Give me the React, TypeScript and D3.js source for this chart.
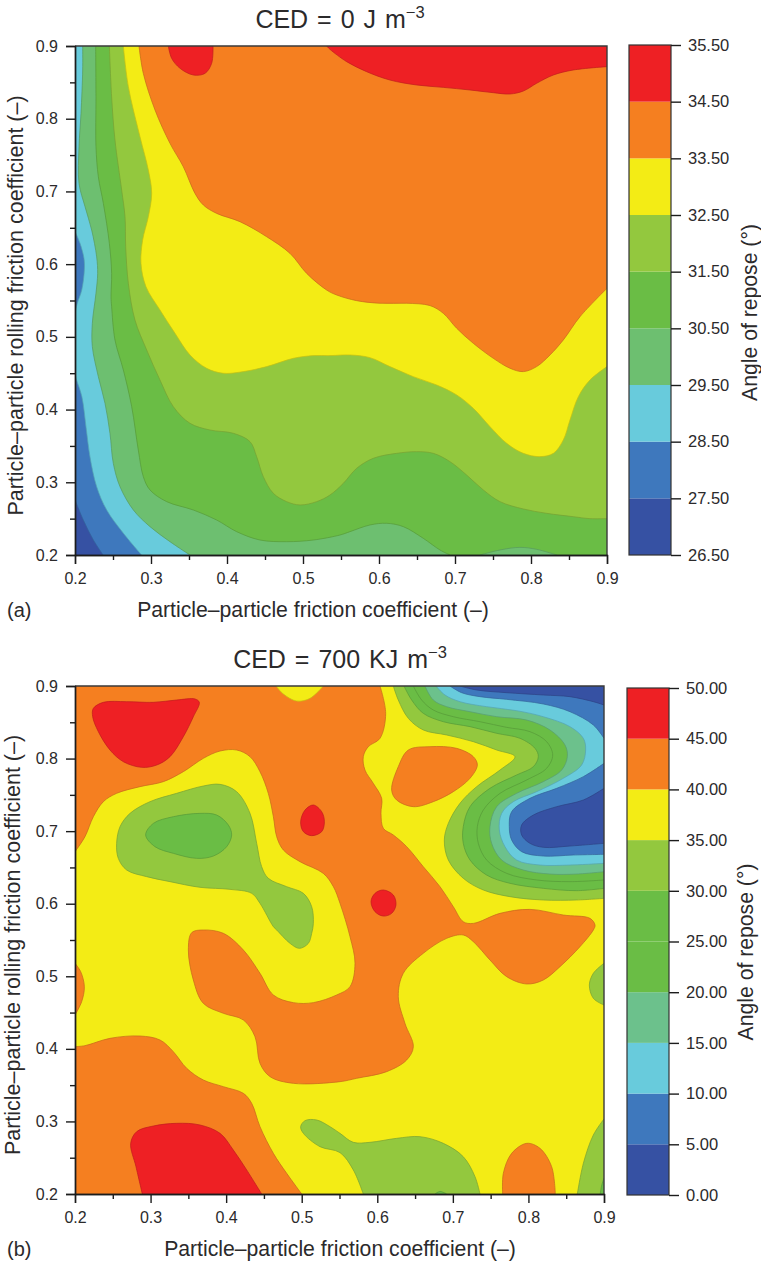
import * as d3 from 'd3';
import React, { useRef, useEffect } from 'react';

type Pt = number[];

const RED = '#ee2024', ORANGE = '#f57f20', YELLOW = '#f3ec15', LIME = '#93c83e', GREEN = '#6abd45';
const TEAL = '#6dbf70', TEAL_B = '#6cc18c', CYAN = '#68cbdc', BLUE = '#3e78bd', NAVY = '#3651a3';

const tl = [[0.2, 0.9]], tr = [[0.9, 0.9]], br = [[0.9, 0.2]], bl = [[0.2, 0.2]];
const axisTicks = [0.2, 0.3, 0.4, 0.5, 0.6, 0.7, 0.8, 0.9];
const axisMinor = [0.25, 0.35, 0.45, 0.55, 0.65, 0.75, 0.85];

// panel (a): contour lines, [friction, rolling friction]
const levelsA = [26.5, 27.5, 28.5, 29.5, 30.5, 31.5, 32.5, 33.5, 34.5, 35.5];
const colorsA = [NAVY, BLUE, CYAN, TEAL, GREEN, LIME, YELLOW, ORANGE, RED];
const a275 = [[0.2, 0.276], [0.211, 0.248], [0.224, 0.221], [0.237, 0.2]];
const a285top = [[0.2, 0.645], [0.2066, 0.6286], [0.2118, 0.608], [0.2123, 0.592], [0.2088, 0.564], [0.203, 0.546], [0.2, 0.532]];
const a285low = [[0.2, 0.45], [0.202, 0.441], [0.209, 0.418], [0.215, 0.372], [0.2197, 0.335], [0.2285, 0.294], [0.2417, 0.262], [0.2636, 0.23], [0.2877, 0.2]];
const a295 = [[0.2101, 0.9], [0.2101, 0.867], [0.2079, 0.8074], [0.2053, 0.7615], [0.2053, 0.711], [0.2132, 0.679], [0.2219, 0.647], [0.2285, 0.61], [0.2298, 0.587], [0.2276, 0.56], [0.2228, 0.5187], [0.2228, 0.4866], [0.2307, 0.4453], [0.2395, 0.4086], [0.246, 0.3674], [0.2504, 0.3261], [0.2592, 0.294], [0.2768, 0.2619], [0.2987, 0.239], [0.325, 0.2183], [0.3513, 0.2]];
const a305 = [[0.2272, 0.9], [0.2276, 0.8303], [0.2276, 0.7615], [0.2307, 0.7203], [0.2373, 0.6836], [0.2452, 0.6286], [0.2482, 0.5873], [0.2474, 0.555], [0.2482, 0.5416], [0.2526, 0.4957], [0.2636, 0.4545], [0.2746, 0.404], [0.2833, 0.3444], [0.2899, 0.3077], [0.2987, 0.2894], [0.3206, 0.2734], [0.3557, 0.2619], [0.3864, 0.2481], [0.4127, 0.2321], [0.4434, 0.2206], [0.4785, 0.2183], [0.5136, 0.2206], [0.5487, 0.2275], [0.5618, 0.2321], [0.5881, 0.2413], [0.6101, 0.2436], [0.632, 0.239], [0.6583, 0.2229], [0.6802, 0.2069], [0.6934, 0.2]];
const a305hole = [[0.7329, 0.2], [0.7592, 0.2069], [0.7855, 0.2105], [0.8074, 0.2078], [0.8338, 0.2]];
const a315 = [[0.2452, 0.9], [0.2482, 0.8303], [0.2526, 0.7707], [0.2614, 0.7019], [0.2658, 0.6652], [0.2667, 0.624], [0.2702, 0.5735], [0.2789, 0.5232], [0.2943, 0.482], [0.3118, 0.4407], [0.3294, 0.404], [0.3513, 0.3811], [0.3776, 0.3719], [0.4083, 0.3674], [0.4303, 0.3559], [0.439, 0.3353], [0.4478, 0.3077], [0.461, 0.2848], [0.4785, 0.2734], [0.4961, 0.2688], [0.518, 0.2734], [0.5355, 0.2825], [0.5531, 0.2986], [0.5706, 0.3192], [0.5925, 0.333], [0.6232, 0.3398], [0.6495, 0.3421], [0.6715, 0.3398], [0.6934, 0.3284], [0.7153, 0.31], [0.7373, 0.2894], [0.7592, 0.2734], [0.7899, 0.2633], [0.8206, 0.2573], [0.8557, 0.2527], [0.8776, 0.25], [0.9, 0.25]];
const a325 = [[0.2636, 0.9], [0.2702, 0.8441], [0.2855, 0.7753], [0.2965, 0.7294], [0.3009, 0.6973], [0.2965, 0.6652], [0.289, 0.6331], [0.2868, 0.6011], [0.2934, 0.569], [0.3118, 0.537], [0.3316, 0.5049], [0.3513, 0.4751], [0.3732, 0.4568], [0.3952, 0.4499], [0.4215, 0.4522], [0.4522, 0.4591], [0.4873, 0.4705], [0.5136, 0.4742], [0.5355, 0.4742], [0.5618, 0.4751], [0.5881, 0.4714], [0.6144, 0.4591], [0.6451, 0.4453], [0.6759, 0.4338], [0.7022, 0.4201], [0.7241, 0.4017], [0.7461, 0.3765], [0.768, 0.3536], [0.7899, 0.3398], [0.8118, 0.3353], [0.8294, 0.3398], [0.8425, 0.3582], [0.8513, 0.3857], [0.8623, 0.4178], [0.8776, 0.4407], [0.9, 0.4591]];
const a335 = [[0.2842, 0.9], [0.2899, 0.8624], [0.3053, 0.812], [0.325, 0.7661], [0.3425, 0.734], [0.3579, 0.6973], [0.3689, 0.6813], [0.3864, 0.6698], [0.4171, 0.6584], [0.4522, 0.6377], [0.4829, 0.6148], [0.5048, 0.5873], [0.5311, 0.5644], [0.5443, 0.5576], [0.5706, 0.5498], [0.6013, 0.5462], [0.6364, 0.5462], [0.6671, 0.543], [0.6846, 0.5324], [0.7022, 0.5118], [0.7241, 0.4911], [0.7504, 0.4705], [0.7724, 0.4568], [0.7899, 0.4522], [0.8074, 0.4591], [0.825, 0.4751], [0.8425, 0.4957], [0.8645, 0.5278], [0.9, 0.5668]];
const a345left = [[0.3228, 0.9], [0.3272, 0.883], [0.3382, 0.8693], [0.3557, 0.8601], [0.3711, 0.8624], [0.3798, 0.8762], [0.3816, 0.9]];
const a345right = [[0.5311, 0.9], [0.5355, 0.8954], [0.5574, 0.8785], [0.5837, 0.8647], [0.6144, 0.8532], [0.6495, 0.8464], [0.6846, 0.8431], [0.7197, 0.8395], [0.7504, 0.8358], [0.7724, 0.834], [0.7899, 0.8381], [0.8074, 0.8487], [0.8294, 0.8601], [0.8557, 0.867], [0.9, 0.8716]];

// panel (b)
const levelsB = [0, 5, 10, 15, 20, 25, 30, 35, 40, 45, 50];
const colorsB = [NAVY, BLUE, CYAN, TEAL_B, GREEN, GREEN, LIME, YELLOW, ORANGE, RED];
const b40main = [[0.2, 0.6717], [0.2132, 0.6924], [0.2243, 0.7199], [0.2375, 0.7406], [0.2551, 0.7521], [0.286, 0.7613], [0.3169, 0.7682], [0.3434, 0.782], [0.3698, 0.8003], [0.3919, 0.8104], [0.4139, 0.8118], [0.4316, 0.8026], [0.4448, 0.7819], [0.4558, 0.7521], [0.4625, 0.7199], [0.4669, 0.6924], [0.4757, 0.674], [0.4978, 0.6579], [0.5286, 0.6418], [0.5419, 0.6235], [0.5507, 0.6005], [0.5639, 0.5546], [0.5705, 0.5179], [0.5639, 0.4857], [0.5462, 0.4742], [0.5154, 0.4637], [0.4889, 0.4637], [0.4625, 0.4742], [0.4448, 0.5041], [0.4228, 0.5362], [0.3963, 0.5592], [0.3698, 0.5638], [0.3544, 0.5601], [0.35, 0.5362], [0.3566, 0.4949], [0.3698, 0.4627], [0.3963, 0.449], [0.4228, 0.4398], [0.4382, 0.4168], [0.4448, 0.3801], [0.4581, 0.3617], [0.4889, 0.3525], [0.5507, 0.3548], [0.5727, 0.3594], [0.6124, 0.3686], [0.6389, 0.3847], [0.6477, 0.403], [0.6366, 0.4352], [0.6278, 0.4719], [0.6344, 0.5041], [0.6609, 0.5317], [0.6918, 0.5523], [0.7138, 0.5569], [0.7271, 0.5477], [0.7491, 0.5225], [0.7712, 0.4995], [0.7977, 0.4894], [0.8197, 0.4949], [0.8418, 0.5133], [0.8682, 0.5408], [0.8859, 0.5638], [0.8881, 0.5706], [0.8815, 0.5798], [0.8462, 0.5844], [0.802, 0.5922], [0.7624, 0.5867], [0.7271, 0.5729], [0.7138, 0.5752], [0.7006, 0.5959], [0.683, 0.6235], [0.6609, 0.651], [0.6389, 0.6786], [0.6212, 0.6947], [0.608, 0.7039], [0.6049, 0.7245], [0.6058, 0.7452], [0.5947, 0.7659], [0.5837, 0.7842], [0.5815, 0.8026], [0.5881, 0.8164], [0.6036, 0.8279], [0.6111, 0.8623], [0.6036, 0.9]];
const b40low = [[0.2, 0.403], [0.2132, 0.4044], [0.2463, 0.4145], [0.286, 0.4177], [0.3125, 0.4122], [0.3301, 0.3961], [0.3478, 0.3732], [0.3698, 0.3571], [0.3963, 0.3479], [0.4228, 0.3387], [0.4338, 0.3249], [0.4448, 0.2928], [0.4625, 0.256], [0.4801, 0.2285], [0.5, 0.2]];
const b40edge = [[0.2, 0.5179], [0.2075, 0.5064], [0.2124, 0.4857], [0.2088, 0.465], [0.2, 0.4467]];
const b40isle = [[0.6278, 0.7888], [0.6411, 0.8118], [0.6697, 0.8164], [0.705, 0.8141], [0.7271, 0.8026], [0.7324, 0.7911], [0.7227, 0.7728], [0.7006, 0.7544], [0.6741, 0.7406], [0.6477, 0.7337], [0.6256, 0.7429], [0.619, 0.7567]];
const b40foot = [[0.7659, 0.2], [0.7668, 0.2285], [0.7778, 0.256], [0.7977, 0.2698], [0.8153, 0.2629], [0.8307, 0.2377], [0.8356, 0.2]];
const b45big = [[0.2243, 0.8692], [0.2375, 0.8775], [0.2684, 0.8784], [0.3037, 0.8775], [0.3345, 0.8807], [0.3588, 0.8821], [0.3645, 0.8775], [0.3566, 0.8577], [0.3434, 0.8302], [0.3257, 0.8026], [0.3081, 0.7911], [0.2882, 0.7879], [0.264, 0.7957], [0.2463, 0.8118], [0.2309, 0.8371], [0.2234, 0.8577]];
const b45dot1 = [[0.4986, 0.713], [0.5044, 0.7291], [0.5154, 0.736], [0.5264, 0.7268], [0.53, 0.713], [0.5264, 0.6993], [0.5132, 0.6938], [0.5022, 0.6993]];
const b45dot2 = [[0.5917, 0.6028], [0.597, 0.6143], [0.608, 0.6189], [0.6212, 0.612], [0.6247, 0.5982], [0.619, 0.5867], [0.608, 0.583], [0.597, 0.589]];
const b45foot = [[0.2891, 0.2], [0.2807, 0.2377], [0.2737, 0.2698], [0.2816, 0.2859], [0.3037, 0.2937], [0.3345, 0.2974], [0.3654, 0.2951], [0.3919, 0.2836], [0.4095, 0.2606], [0.4272, 0.2331], [0.447, 0.2]];
const b40notch = [[0.466, 0.9], [0.4757, 0.889], [0.4933, 0.8793], [0.511, 0.883], [0.5286, 0.9]];
const b35left = [[0.2551, 0.6832], [0.2596, 0.7062], [0.2728, 0.7245], [0.2992, 0.7406], [0.3345, 0.7521], [0.3698, 0.7622], [0.3919, 0.7645], [0.4139, 0.7544], [0.4316, 0.7245], [0.4404, 0.6832], [0.447, 0.651], [0.4558, 0.635], [0.4801, 0.6235], [0.5022, 0.6143], [0.5132, 0.5959], [0.5154, 0.5729], [0.5132, 0.5592], [0.5088, 0.5454], [0.4969, 0.5385], [0.4845, 0.5454], [0.4669, 0.5638], [0.4625, 0.5684], [0.4448, 0.6005], [0.4338, 0.6143], [0.4051, 0.6198], [0.3654, 0.6226], [0.3257, 0.6304], [0.2948, 0.6373], [0.2684, 0.6464], [0.2573, 0.6625]];
const b30left = [[0.2935, 0.6947], [0.3037, 0.7107], [0.3301, 0.7199], [0.3654, 0.7245], [0.3875, 0.7222], [0.4029, 0.7084], [0.4073, 0.6947], [0.4007, 0.6786], [0.3831, 0.6657], [0.361, 0.6625], [0.3301, 0.6694], [0.3059, 0.6786]];
const b35foot = [[0.7359, 0.2], [0.7293, 0.2239], [0.7138, 0.2514], [0.6874, 0.2698], [0.6565, 0.279], [0.6256, 0.2767], [0.5903, 0.2712], [0.5683, 0.2712], [0.5506, 0.2836], [0.5374, 0.2928], [0.5198, 0.302], [0.5044, 0.3011], [0.4986, 0.2928], [0.5022, 0.2836], [0.5242, 0.2652], [0.5507, 0.257], [0.5683, 0.2331], [0.5815, 0.2]];
const b35corner = [[0.8647, 0.2], [0.8727, 0.2423], [0.8859, 0.2813], [0.9, 0.3034]];
const b35edge = [[0.9, 0.5179], [0.8859, 0.5041], [0.8806, 0.488], [0.8859, 0.4696], [0.9, 0.4604]];
const b30foot = [[0.6763, 0.2], [0.683, 0.2035], [0.6918, 0.2]];
const b30corner = [[0.895, 0.2], [0.897, 0.212], [0.9, 0.222]];
const b35 = [[0.6212, 0.9], [0.6278, 0.8807], [0.6411, 0.8554], [0.6609, 0.8394], [0.6918, 0.8325], [0.7271, 0.8233], [0.758, 0.8118], [0.7822, 0.8026], [0.7624, 0.7842], [0.7315, 0.7613], [0.7094, 0.7383], [0.694, 0.7107], [0.6887, 0.6878], [0.694, 0.6602], [0.7138, 0.635], [0.7403, 0.6189], [0.7756, 0.6097], [0.8197, 0.6051], [0.8638, 0.6051], [0.9, 0.6074]];
const b30 = [[0.6353, 0.9], [0.6455, 0.8807], [0.6609, 0.8623], [0.6874, 0.8508], [0.7227, 0.844], [0.758, 0.8348], [0.7888, 0.8279], [0.8087, 0.8141], [0.8131, 0.8026], [0.8065, 0.7888], [0.7844, 0.7774], [0.7491, 0.759], [0.7227, 0.7337], [0.7138, 0.7062], [0.7138, 0.6832], [0.7227, 0.6602], [0.7447, 0.6395], [0.7756, 0.6281], [0.8197, 0.6212], [0.8638, 0.618], [0.9, 0.6212]];
const b25 = [[0.6477, 0.9], [0.6587, 0.8807], [0.6741, 0.8669], [0.7006, 0.8577], [0.7359, 0.8508], [0.7712, 0.843], [0.802, 0.8371], [0.8241, 0.8233], [0.8321, 0.8049], [0.8241, 0.7866], [0.7977, 0.7705], [0.7624, 0.7521], [0.7403, 0.7291], [0.7324, 0.7062], [0.7337, 0.6832], [0.7447, 0.6602], [0.7712, 0.6418], [0.8109, 0.6327], [0.855, 0.6304], [0.9, 0.6327]];
const b20 = [[0.6631, 0.9], [0.6741, 0.8807], [0.6918, 0.8715], [0.7227, 0.8646], [0.758, 0.8577], [0.7977, 0.8531], [0.8285, 0.8394], [0.8484, 0.8187], [0.8515, 0.8026], [0.844, 0.7842], [0.8197, 0.7682], [0.7844, 0.7521], [0.758, 0.7337], [0.7491, 0.7062], [0.7513, 0.6832], [0.7646, 0.6602], [0.7932, 0.6464], [0.8285, 0.6409], [0.8638, 0.6409], [0.9, 0.6441]];
const b15 = [[0.6777, 0.9], [0.6896, 0.8876], [0.7094, 0.8784], [0.7447, 0.8715], [0.7844, 0.866], [0.8197, 0.8577], [0.855, 0.844], [0.8727, 0.8279], [0.8757, 0.8118], [0.8704, 0.7911], [0.8462, 0.7728], [0.8109, 0.7544], [0.78, 0.7406], [0.7646, 0.7245], [0.7615, 0.7016], [0.769, 0.6786], [0.7844, 0.6602], [0.8153, 0.6533], [0.855, 0.6533], [0.9, 0.6556]];
const b10top = [[0.6962, 0.9], [0.7116, 0.8908], [0.7359, 0.8853], [0.7712, 0.8816], [0.8197, 0.8752], [0.855, 0.8646], [0.8859, 0.8463], [0.9, 0.8279]];
const b10low = [[0.9, 0.7934], [0.8727, 0.7751], [0.8374, 0.759], [0.802, 0.7452], [0.7778, 0.7268], [0.7747, 0.7062], [0.7778, 0.6878], [0.791, 0.6717], [0.8197, 0.6657], [0.8594, 0.6671], [0.9, 0.668]];
const b5top = [[0.7094, 0.9], [0.7315, 0.8945], [0.7712, 0.8908], [0.8197, 0.8876], [0.855, 0.8853], [0.8859, 0.8784], [0.9, 0.8738]];
const b5low = [[0.9, 0.759], [0.8727, 0.7429], [0.8374, 0.7337], [0.8065, 0.7222], [0.791, 0.7084], [0.791, 0.6947], [0.802, 0.6832], [0.8197, 0.6777], [0.855, 0.6795], [0.9, 0.6832]];

// painted in order over the base colour; a region is a chain of contour lines and corners
const regionsA: any[] = [
    { fill: BLUE, parts: [a275, br, tr, tl] },
    { fill: CYAN, parts: [tl, a285top, a285low, br, tr] },
    { fill: TEAL, parts: [a295, br, tr] },
    { fill: GREEN, parts: [a305, br, tr] },
    { fill: TEAL, parts: [a305hole] },
    { fill: LIME, parts: [a315, tr] },
    { fill: YELLOW, parts: [a325, tr] },
    { fill: ORANGE, parts: [a335, tr] },
    { fill: RED, parts: [a345left] },
    { fill: RED, parts: [a345right, tr] },
];
const regionsB: any[] = [
    { fill: ORANGE, parts: [b40main, tl] },
    { fill: ORANGE, parts: [b40low, bl] },
    { fill: ORANGE, parts: [b40edge] },
    { fill: ORANGE, parts: [b40isle], closed: true },
    { fill: ORANGE, parts: [b40foot] },
    { fill: YELLOW, parts: [b40notch] },
    { fill: RED, parts: [b45big], closed: true },
    { fill: RED, parts: [b45dot1], closed: true },
    { fill: RED, parts: [b45dot2], closed: true },
    { fill: RED, parts: [b45foot] },
    { fill: LIME, parts: [b35left], closed: true },
    { fill: GREEN, parts: [b30left], closed: true },
    { fill: LIME, parts: [b35foot] },
    { fill: LIME, parts: [b35corner, br] },
    { fill: LIME, parts: [b35edge] },
    { fill: GREEN, parts: [b30foot] },
    { fill: GREEN, parts: [b30corner, br] },
    { fill: LIME, parts: [b35, tr] },
    { fill: GREEN, parts: [b30, tr] },
    { fill: GREEN, parts: [b25, tr] },
    { fill: TEAL_B, parts: [b20, tr] },
    { fill: CYAN, parts: [b15, tr] },
    { fill: BLUE, parts: [b10top, tr] },
    { fill: BLUE, parts: [b10low] },
    { fill: NAVY, parts: [b5top, tr] },
    { fill: NAVY, parts: [b5low] },
];

const FONT = '"Liberation Sans", Arial, sans-serif';
const INK = '#2b2a2b';
const LABEL_SIZE = 21.2;

function Panel({ id, box, bar, levels, colors, base, regions, title, sup, tag, titleX, xLabelX, yLabelX, barLabelX }: any) {
    const xRef = useRef<SVGGElement>(null);
    const xMinorRef = useRef<SVGGElement>(null);
    const yRef = useRef<SVGGElement>(null);
    const yMinorRef = useRef<SVGGElement>(null);
    const barRef = useRef<SVGGElement>(null);

    const x = d3.scaleLinear().domain([0.2, 0.9]).range([box.left, box.right]);
    const y = d3.scaleLinear().domain([0.2, 0.9]).range([box.bottom, box.top]);
    const z = d3.scaleLinear().domain([levels[0], levels[levels.length - 1]]).range([bar.bottom, bar.top]);

    const smooth = d3.line<Pt>().x(d => x(d[0])).y(d => y(d[1])).curve(d3.curveCatmullRomClosed.alpha(0.5));
    const open = d3.line<Pt>().x(d => x(d[0])).y(d => y(d[1])).curve(d3.curveCatmullRom.alpha(0.5));

    const regionPath = (r: any) => {
        if (r.closed) return smooth(r.parts[0]) as string;
        return r.parts.map((p: Pt[], i: number) => {
            const s = p.length === 1 ? `L${x(p[0][0])},${y(p[0][1])}` : (open(p) as string).replace(/^M/, 'L');
            return i === 0 ? s.replace(/^L/, 'M') : s;
        }).join('') + 'Z';
    };
    const edgePaths = (r: any) => r.closed
        ? [smooth(r.parts[0]) as string]
        : r.parts.filter((p: Pt[]) => p.length > 1).map((p: Pt[]) => open(p) as string);

    useEffect(() => {
        const style = (size: number) => (g: any) => {
            g.selectAll('line,path').attr('stroke', '#1c1c1c').attr('stroke-width', 1.4);
            g.selectAll('text').attr('font-family', FONT).attr('font-size', size).attr('fill', INK);
        };
        d3.select(xRef.current).call(d3.axisBottom(x).tickValues(axisTicks).tickFormat(d3.format('.1f') as any).tickSize(9).tickPadding(9) as any).call(style(16));
        d3.select(xMinorRef.current).call(d3.axisBottom(x).tickValues(axisMinor).tickFormat(() => '').tickSize(5).tickSizeOuter(0) as any).call(style(16));
        d3.select(yRef.current).call(d3.axisLeft(y).tickValues(axisTicks).tickFormat(d3.format('.1f') as any).tickSize(9).tickPadding(8) as any).call(style(16));
        d3.select(yMinorRef.current).call(d3.axisLeft(y).tickValues(axisMinor).tickFormat(() => '').tickSize(5).tickSizeOuter(0) as any).call(style(16));
        d3.select(barRef.current).call(d3.axisRight(z).tickValues(levels).tickFormat(d3.format('.2f') as any).tickSize(10).tickSizeOuter(0).tickPadding(7) as any).call(style(16.5));
        d3.select(barRef.current).selectAll('.domain').remove();
    }, []);

    const yMid = (box.top + box.bottom) / 2;
    return (
        <g>
            <clipPath id={id}>
                <rect x={box.left} y={box.top} width={box.right - box.left} height={box.bottom - box.top} />
            </clipPath>
            <g clipPath={`url(#${id})`}>
                <rect x={box.left} y={box.top} width={box.right - box.left} height={box.bottom - box.top} fill={base} />
                {regions.map((r: any, i: number) => (
                    <g key={i}>
                        <path d={regionPath(r)} fill={r.fill} />
                        {edgePaths(r).map((d: string, j: number) => (
                            <path key={j} d={d} fill="none" stroke={d3.color(r.fill)!.darker(0.6).formatHex()} strokeWidth={0.7} />
                        ))}
                    </g>
                ))}
            </g>
            <path d={`M${box.left},${box.top}H${box.right}V${box.bottom}`} fill="none" stroke="#3a3a3a" strokeWidth={1.4} />
            <g ref={xRef} transform={`translate(0,${box.bottom})`} />
            <g ref={xMinorRef} transform={`translate(0,${box.bottom})`} />
            <g ref={yRef} transform={`translate(${box.left},0)`} />
            <g ref={yMinorRef} transform={`translate(${box.left},0)`} />

            {colors.map((c: string, i: number) => (
                <rect key={i} x={bar.left} width={bar.right - bar.left} y={z(levels[i + 1])} height={z(levels[i]) - z(levels[i + 1])} fill={c} />
            ))}
            <rect x={bar.left} y={bar.top} width={bar.right - bar.left} height={bar.bottom - bar.top} fill="none" stroke="#333" strokeWidth={1.2} />
            <g ref={barRef} transform={`translate(${bar.right},0)`} />

            <text x={titleX} y={box.top - 18} textAnchor="middle" fontFamily={FONT} fontSize={25} wordSpacing={2} fill={INK}>
                {title}
                <tspan dy={-10} fontSize={16.5}>{sup}</tspan>
            </text>
            <text x={xLabelX} y={box.bottom + 62} textAnchor="middle" fontFamily={FONT} fontSize={LABEL_SIZE} fill={INK}>Particle–particle friction coefficient (–)</text>
            <text transform={`translate(${yLabelX},${yMid + 5}) rotate(-90)`} textAnchor="middle" fontFamily={FONT} fontSize={21.5} fill={INK}>Particle–particle rolling friction coefficient (–)</text>
            <text transform={`translate(${barLabelX},${yMid + 12}) rotate(-90)`} textAnchor="middle" fontFamily={FONT} fontSize={LABEL_SIZE} fill={INK}>Angle of repose (°)</text>
            <text x={7} y={box.bottom + 62} fontFamily={FONT} fontSize={20} fill={INK}>{tag}</text>
        </g>
    );
}

export default function App() {
    return (
        <svg width={761} height={1263} style={{ position: 'absolute', left: 0, top: 0, background: '#fff' }}>
            <Panel id="clipA" box={{ left: 75, right: 607, top: 46, bottom: 555 }} bar={{ left: 629, right: 671, top: 45, bottom: 555 }}
                levels={levelsA} colors={colorsA} base={NAVY} regions={regionsA}
                title="CED = 0 J m" sup="−3" tag="(a)" titleX={340} xLabelX={313} yLabelX={23} barLabelX={757} />
            <Panel id="clipB" box={{ left: 75, right: 604, top: 686, bottom: 1194 }} bar={{ left: 627, right: 669, top: 688, bottom: 1195 }}
                levels={levelsB} colors={colorsB} base={YELLOW} regions={regionsB}
                title="CED = 700 KJ m" sup="−3" tag="(b)" titleX={340} xLabelX={340} yLabelX={20} barLabelX={753} />
        </svg>
    );
}
